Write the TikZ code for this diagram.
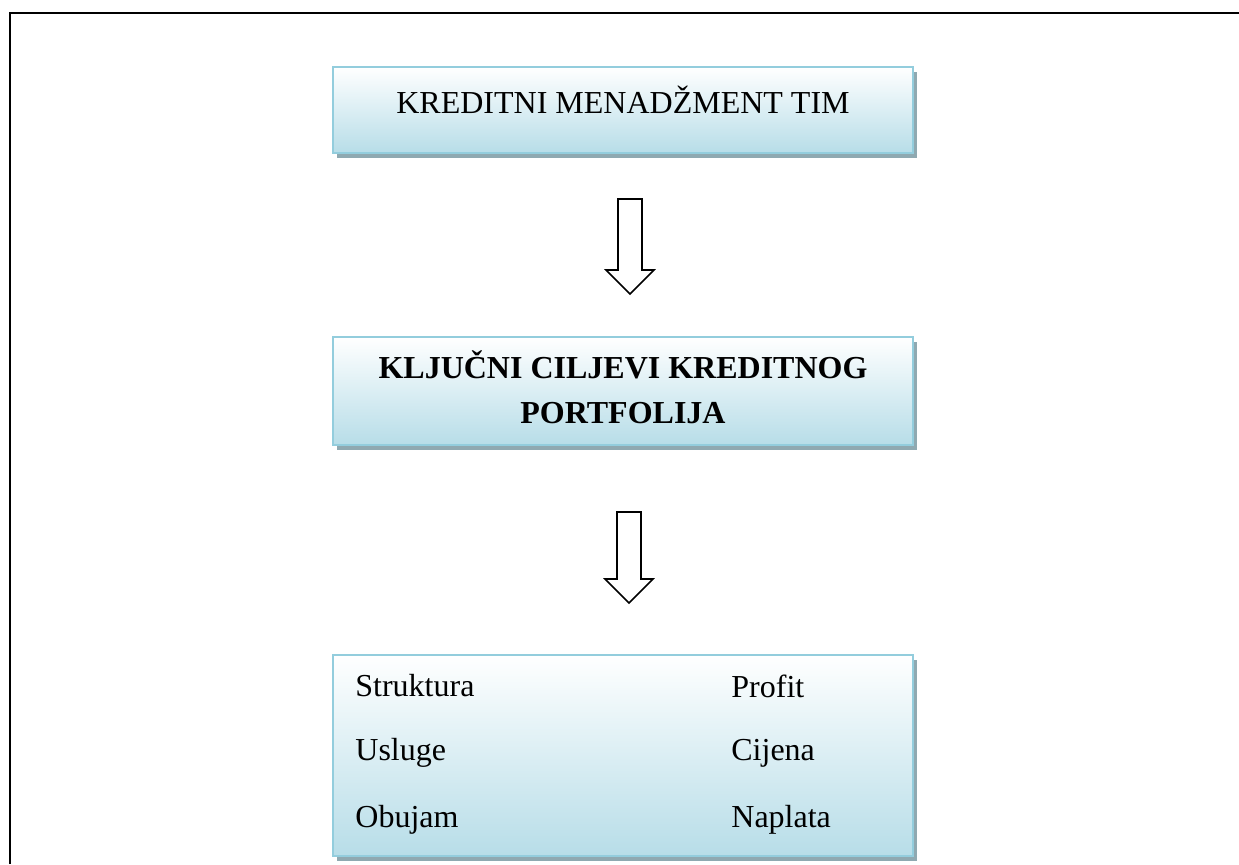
\documentclass[tikz,border=0pt]{standalone}
\usepackage{fontspec}
\setmainfont{Liberation Serif}
\usetikzlibrary{positioning}
\usetikzlibrary{calc,shadows}

\definecolor{BoxEdge}{HTML}{93CDDD}
\definecolor{BoxFill}{HTML}{B7DDE8}
\definecolor{BoxShade}{HTML}{8FA9B1}

\tikzset{
	goalbox/.style={draw=BoxEdge, line width=1pt, top color=white, bottom color=BoxFill,
		minimum width=290pt, inner sep=0pt,
		drop shadow={shadow xshift=2pt, shadow yshift=-2.5pt, fill=BoxShade, opacity=1}},
	boxtext/.style={font=\fontsize{16}{22.5}\selectfont, inner sep=0pt},
	blockarrow/.style={draw=black, line width=0.8pt, fill=white, line join=miter},
}

\begin{document}
\begin{tikzpicture}[x=0.5pt, y=-0.5pt]
	
	% ------------------------------------------------
	% Page size of the figure
	\useasboundingbox (0,0) rectangle (1239,864);
	
	% ------------------------------------------------
	% Frame of the table cell
	\draw[line width=1.2pt] (10,864) |- (1239,13);
	
	% ------------------------------------------------
	% Boxes
	\node[goalbox, minimum height=43pt]   (Team)  at (623,110) {};
	\node[goalbox, minimum height=54pt]   (Goals) at (623,391) {};
	\node[goalbox, minimum height=100.5pt] (Items) at (623,755.5) {};
	
	% ----------------
	% Texts
	\node[boxtext] (TeamText) at (623,100) {KREDITNI MENADŽMENT TIM};
	\node[boxtext, align=center, font=\fontsize{16}{22.5}\selectfont\bfseries]
		(GoalsText) at (623,387) {KLJUČNI CILJEVI KREDITNOG\\PORTFOLIJA};
	
	\node[boxtext, anchor=west] (Struktura) at (355,686) {Struktura};
	\node[boxtext, anchor=west] (Usluge)    at (355,753) {Usluge};
	\node[boxtext, anchor=west] (Obujam)    at (355,820) {Obujam};
	\node[boxtext, anchor=west] (Profit)    at (731,686) {Profit};
	\node[boxtext, anchor=west] (Cijena)    at (731,753) {Cijena};
	\node[boxtext, anchor=west] (Naplata)   at (731,820) {Naplata};
	
	% ------------------------------------------------
	% Block arrows between the boxes
	\coordinate (ArrowA) at (630,199);
	\coordinate (ArrowB) at (629,512);
	
	\foreach \a/\s in {ArrowA/71, ArrowB/67}{
		\draw[blockarrow] ($(\a)+(-12,0)$) -- ($(\a)+(12,0)$) -- ($(\a)+(12,\s)$)
			-- ($(\a)+(24,\s)$) -- ($(\a)+(0,\s+24)$) -- ($(\a)+(-24,\s)$)
			-- ($(\a)+(-12,\s)$) -- cycle;
	}
	
\end{tikzpicture}
\end{document}
